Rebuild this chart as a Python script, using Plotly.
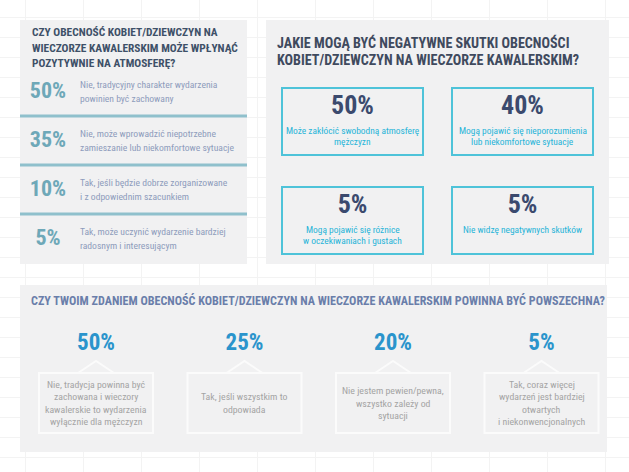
import plotly.graph_objects as go

# ---- data ----
q1_title = ["CZY OBECNOŚĆ KOBIET/DZIEWCZYN NA",
            "WIECZORZE KAWALERSKIM MOŻE WPŁYNĄĆ",
            "POZYTYWNIE NA ATMOSFERĘ?"]
q1_values = [50, 35, 10, 5]
q1_answers = [
    ["Nie, tradycyjny charakter wydarzenia", "powinien być zachowany"],
    ["Nie, może wprowadzić niepotrzebne", "zamieszanie lub niekomfortowe sytuacje"],
    ["Tak, jeśli będzie dobrze zorganizowane", "i z odpowiednim szacunkiem"],
    ["Tak, może uczynić wydarzenie bardziej", "radosnym i interesującym"],
]

q2_title = ["JAKIE MOGĄ BYĆ NEGATYWNE SKUTKI OBECNOŚCI",
            "KOBIET/DZIEWCZYN NA WIECZORZE KAWALERSKIM?"]
q2_values = [50, 40, 5, 5]
q2_answers = [
    ["Może zakłócić swobodną atmosferę", "mężczyzn"],
    ["Mogą pojawić się nieporozumienia", "lub niekomfortowe sytuacje"],
    ["Mogą pojawić się różnice", "w oczekiwaniach i gustach"],
    ["Nie widzę negatywnych skutków"],
]

q3_title = "CZY TWOIM ZDANIEM OBECNOŚĆ KOBIET/DZIEWCZYN NA WIECZORZE KAWALERSKIM POWINNA BYĆ POWSZECHNA?"
q3_values = [50, 25, 20, 5]
q3_answers = [
    ["Nie, tradycja powinna być", "zachowana i wieczory", "kawalerskie to wydarzenia", "wyłącznie dla mężczyzn"],
    ["Tak, jeśli wszystkim to", "odpowiada"],
    ["Nie jestem pewien/pewna,", "wszystko zależy od", "sytuacji"],
    ["Tak, coraz więcej", "wydarzeń jest bardziej", "otwartych", "i niekonwencjonalnych"],
]

W, H = 629, 472
FONT = "Roboto Condensed, Roboto, sans-serif"
PANEL = "#f1f1f2"

fig = go.Figure()
shapes = []
annotations = []


def panel(x0, y0, x1, y1):
    shapes.append(dict(type="rect", x0=x0, y0=y0, x1=x1, y1=y1, xref="x", yref="y",
                       fillcolor=PANEL, line=dict(width=0), layer="between"))


def lines_at(x, ys, lines, size, color, anchor="center", weight="normal"):
    # one annotation per line so the line spacing follows the reference
    for y, txt in zip(ys, lines):
        annotations.append(dict(x=x, y=y, xref="x", yref="y", text=txt,
                                showarrow=False, xanchor=anchor, yanchor="middle",
                                font=dict(family=FONT, size=size, color=color, weight=weight)))


def stacked(center, n, step):
    top = center - step * (n - 1) / 2
    return [top + k * step for k in range(n)]


# ---- panel 1: top-left list ----
panel(20, 20, 247, 264)
lines_at(30, [32, 48, 63], q1_title, 11.4, "#3e5068", anchor="left", weight="bold")
row_y = [92 + i * 49 for i in range(len(q1_values))]
fig.add_trace(go.Scatter(
    x=[48] * len(q1_values), y=row_y, mode="text",
    text=[f"{v}%" for v in q1_values], textposition="middle center",
    textfont=dict(family=FONT, size=22, color="#6ea8b8", weight="bold"), hoverinfo="skip"))
for i, ans in enumerate(q1_answers):
    lines_at(78, stacked(row_y[i] - 0.5, len(ans), 14.5), ans, 9.6, "#8e9cbc", anchor="left")
    if i < len(q1_answers) - 1:
        shapes.append(dict(type="line", x0=20, x1=247, y0=row_y[i] + 24, y1=row_y[i] + 24,
                           xref="x", yref="y", line=dict(color="#8fc0cc", width=3),
                           layer="between"))

# ---- panel 2: top-right boxes ----
panel(266, 20, 609, 264)
lines_at(275, [42, 60], q2_title, 14.1, "#3f4a5e", anchor="left", weight="bold")
bx = [282, 452]
by = [88, 187]
bw, bh = 141, 67
q2_cx, q2_cy = [], []
for i in range(len(q2_values)):
    x0 = bx[i % 2]
    y0 = by[i // 2]
    shapes.append(dict(type="rect", x0=x0, x1=x0 + bw, y0=y0, y1=y0 + bh, xref="x", yref="y",
                       line=dict(color="#4ec3d9", width=2), fillcolor="rgba(0,0,0,0)",
                       layer="between"))
    q2_cx.append(x0 + bw / 2)
    q2_cy.append(y0 + 19)
    ys = [y0 + 42, y0 + 53] if len(q2_answers[i]) > 1 else [y0 + 42]
    lines_at(x0 + bw / 2, ys, q2_answers[i], 9.4, "#27b4d8")
fig.add_trace(go.Scatter(
    x=q2_cx, y=q2_cy, mode="text",
    text=[f"{v}%" for v in q2_values], textposition="middle center",
    textfont=dict(family=FONT, size=26, color="#3b4a6e", weight="bold"), hoverinfo="skip"))

# ---- panel 3: bottom row ----
panel(20, 285, 607, 452)
lines_at(318, [300], [q3_title], 12.1, "#6a7eaa", weight="bold")
q3_cx = [96 + i * 148.5 for i in range(len(q3_values))]
fig.add_trace(go.Scatter(
    x=q3_cx, y=[344] * len(q3_values), mode="text",
    text=[f"{v}%" for v in q3_values], textposition="middle center",
    textfont=dict(family=FONT, size=23, color="#2a94cc", weight="bold"), hoverinfo="skip"))
for i, cx in enumerate(q3_cx):
    shapes.append(dict(type="rect", x0=cx - 57, x1=cx + 57, y0=373, y1=433, xref="x", yref="y",
                       line=dict(color="#fbfbfb", width=2), fillcolor="rgba(0,0,0,0)",
                       layer="between"))
    shapes.append(dict(type="path", path=f"M {cx - 18} 373 L {cx} 361 L {cx + 18} 373",
                       xref="x", yref="y", line=dict(color="#fbfbfb", width=2),
                       layer="between"))
    lines_at(cx, stacked(403, len(q3_answers[i]), 12.3), q3_answers[i], 9.8, "#a4a4a4")

fig.update_layout(
    width=W, height=H, margin=dict(l=0, r=0, t=0, b=0),
    paper_bgcolor="white", plot_bgcolor="white",
    showlegend=False, shapes=shapes, annotations=annotations,
    xaxis=dict(range=[0, W], showgrid=True, gridcolor="#f3f3f3", dtick=58, tick0=25,
               zeroline=False, showticklabels=False, fixedrange=True),
    yaxis=dict(range=[H, 0], showgrid=True, gridcolor="#f3f3f3", dtick=20, tick0=17,
               zeroline=False, showticklabels=False, fixedrange=True),
)

fig.write_html("out.html", config={"displayModeBar": False},
               post_script="document.body.style.margin='0px';")
